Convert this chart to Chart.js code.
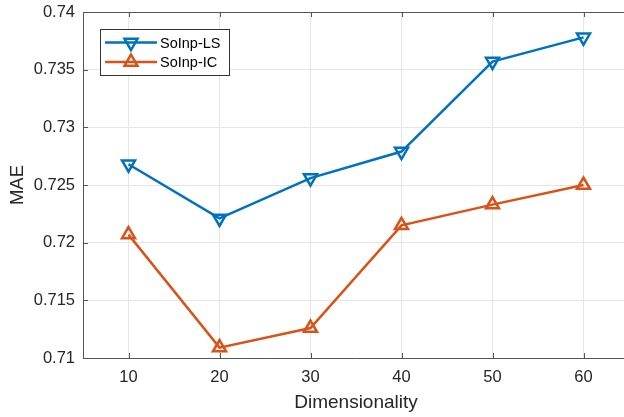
<!DOCTYPE html>
<html><head><meta charset="utf-8">
<script src="https://cdn.jsdelivr.net/npm/chart.js@4"></script>
<style>html,body{margin:0;padding:0;overflow:hidden;background:#fff;width:624px;height:417px}
#wrap{width:640px;height:417px;position:relative}</style>
</head><body><div id="wrap"><canvas id="c" width="640" height="417"></canvas></div>
<script>
const dims = [10, 20, 30, 40, 50, 60];
const lsValues = [0.7268, 0.7221, 0.7256, 0.7279, 0.7357, 0.7378];
const icValues = [0.7207, 0.7109, 0.7126, 0.7215, 0.7233, 0.7250];
const yTickLabels = ['0.71', '0.715', '0.72', '0.725', '0.73', '0.735', '0.74'];
const yTickValues = [0.71, 0.715, 0.72, 0.725, 0.73, 0.735, 0.74];
const seriesNames = ['SoInp-LS', 'SoInp-IC'];

const BLUE = '#0072BD', ORANGE = '#D95319';
const FONT = '"Liberation Sans", Arial, sans-serif';

const frame = {
  id: 'frame',
  afterDraw(chart) {
    const ctx = chart.ctx, a = chart.chartArea;
    const xs = chart.scales.x, ys = chart.scales.y;
    ctx.save();
    ctx.strokeStyle = '#555';
    ctx.lineWidth = 1;
    ctx.beginPath();
    ctx.moveTo(a.left, a.top + 0.5); ctx.lineTo(a.right, a.top + 0.5);
    ctx.moveTo(a.right - 0.5, a.top); ctx.lineTo(a.right - 0.5, a.bottom);
    dims.forEach(d => {
      const px = Math.round(xs.getPixelForValue(d)) + 0.5;
      ctx.moveTo(px, a.bottom); ctx.lineTo(px, a.bottom - 5);
      ctx.moveTo(px, a.top); ctx.lineTo(px, a.top + 5);
    });
    yTickValues.forEach(v => {
      const py = Math.round(ys.getPixelForValue(v)) + 0.5;
      ctx.moveTo(a.left, py); ctx.lineTo(a.left + 5, py);
      ctx.moveTo(a.right, py); ctx.lineTo(a.right - 5, py);
    });
    ctx.stroke();
    // legend
    const lx = 100.5, ly = 29.5, lw = 129, lh = 46;
    ctx.fillStyle = '#fff';
    ctx.fillRect(lx, ly, lw, lh);
    ctx.strokeStyle = '#333';
    ctx.strokeRect(lx, ly, lw, lh);
    chart.data.datasets.forEach((ds, i) => {
      const cy = ly + 13 + i * 19.5;
      ctx.strokeStyle = ds.borderColor;
      ctx.lineWidth = 2.5;
      ctx.beginPath(); ctx.moveTo(105, cy); ctx.lineTo(157, cy); ctx.stroke();
      ctx.fillStyle = 'rgba(0,0,0,0)';
      Chart.helpers.drawPoint(ctx, {pointStyle: 'triangle', radius: 7.5, rotation: ds.pointRotation, borderWidth: 2.5}, 131, cy);
      ctx.fillStyle = '#000';
      ctx.font = '14.5px ' + FONT;
      ctx.textBaseline = 'middle';
      ctx.textAlign = 'left';
      ctx.fillText(ds.label, 160, cy + 1);
    });
    ctx.restore();
  }
};

new Chart(document.getElementById('c'), {
  type: 'line',
  data: {
    datasets: [
      { label: seriesNames[0], data: dims.map((d, i) => ({x: d, y: lsValues[i]})),
        borderColor: BLUE, backgroundColor: 'rgba(0,0,0,0)', borderWidth: 2.5,
        pointStyle: 'triangle', pointRotation: 180, pointRadius: 7.5, pointBorderWidth: 2.5, pointHoverRadius: 7.5 },
      { label: seriesNames[1], data: dims.map((d, i) => ({x: d, y: icValues[i]})),
        borderColor: ORANGE, backgroundColor: 'rgba(0,0,0,0)', borderWidth: 2.5,
        pointStyle: 'triangle', pointRotation: 0, pointRadius: 7.5, pointBorderWidth: 2.5, pointHoverRadius: 7.5 }
    ]
  },
  options: {
    responsive: false, animation: false,
    layout: { padding: { top: 12, right: 11, left: 0, bottom: 0 } },
    plugins: { legend: { display: false }, tooltip: { enabled: false } },
    scales: {
      x: {
        type: 'linear', min: 5, max: 65,
        afterBuildTicks: s => { s.ticks = dims.map(v => ({value: v})); },
        afterFit: s => { s.height = 59; s.paddingLeft = 0; s.paddingRight = 0; },
        grid: { color: '#e6e6e6', drawTicks: false },
        border: { color: '#555', width: 1 },
        ticks: { color: '#262626', font: { family: FONT, size: 16.5 }, padding: 10, maxRotation: 0,
                 callback: v => String(v) },
        title: { display: true, text: 'Dimensionality', color: '#262626', font: { family: FONT, size: 19 }, padding: { top: 0, bottom: 3 } }
      },
      y: {
        min: 0.71, max: 0.74,
        afterBuildTicks: s => { s.ticks = yTickValues.map(v => ({value: v})); },
        afterFit: s => { s.width = 83; s.paddingTop = 0; s.paddingBottom = 0; },
        grid: { color: '#e6e6e6', drawTicks: false },
        border: { color: '#555', width: 1 },
        ticks: { color: '#262626', font: { family: FONT, size: 16.5 }, padding: 8,
                 callback: (v, i) => yTickLabels[i] },
        title: { display: true, text: 'MAE', color: '#262626', font: { family: FONT, size: 18.5 }, padding: { top: 7, bottom: 0 } }
      }
    }
  },
  plugins: [frame]
});
</script></body></html>
